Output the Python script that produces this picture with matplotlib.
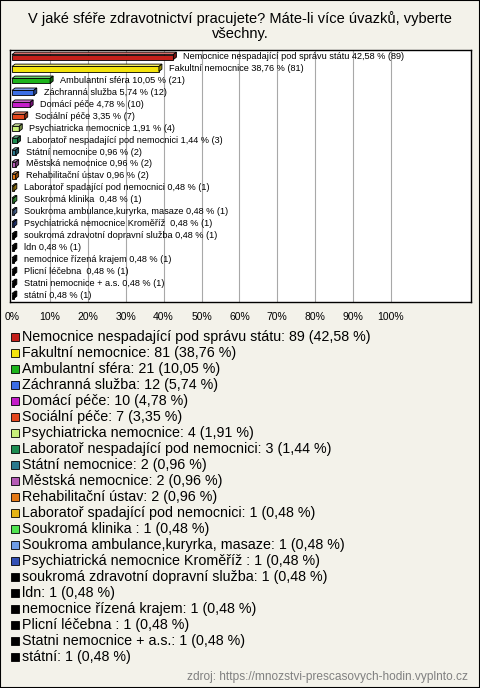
#!/usr/bin/env python3
"""Horizontal 3D-ish bar chart of workplace sectors, with a legend list below."""
import matplotlib
matplotlib.use('Agg')
import matplotlib.pyplot as plt
from matplotlib.patches import Polygon, Rectangle

plt.rcParams['font.family'] = ['Liberation Sans', 'DejaVu Sans']

title = ('V jaké sféře zdravotnictví pracujete? Máte-li více úvazků, vyberte\n'
         'všechny.')
names = [
    'Nemocnice nespadající pod správu státu',
    'Fakultní nemocnice',
    'Ambulantní sféra',
    'Záchranná služba',
    'Domácí péče',
    'Sociální péče',
    'Psychiatricka nemocnice',
    'Laboratoř nespadající pod nemocnici',
    'Státní nemocnice',
    'Městská nemocnice',
    'Rehabilitační ústav',
    'Laboratoř spadající pod nemocnici',
    'Soukromá klinika ',
    'Soukroma ambulance,kuryrka, masaze',
    'Psychiatrická nemocnice Kroměříž ',
    'soukromá zdravotní dopravní služba',
    'ldn',
    'nemocnice řízená krajem',
    'Plicní léčebna ',
    'Statni nemocnice + a.s.',
    'státní',
]
counts = [89, 81, 21, 12, 10, 7, 4, 3, 2, 2, 2, 1, 1, 1, 1, 1, 1, 1, 1, 1, 1]
percents = [42.58, 38.76, 10.05, 5.74, 4.78, 3.35, 1.91, 1.44, 0.96, 0.96,
            0.96, 0.48, 0.48, 0.48, 0.48, 0.48, 0.48, 0.48, 0.48, 0.48, 0.48]
colors = ['#c4201a', '#f4e40c', '#1cb41c', '#3c6ee4', '#c41cc8', '#e4461c',
          '#c8f07a', '#1c8c50', '#28788c', '#b45ab4', '#e47814', '#e4b414',
          '#50e450', '#6e9ce4', '#3250b4', '#000000', '#000000', '#000000',
          '#000000', '#000000', '#000000']
ticks = [0, 10, 20, 30, 40, 50, 60, 70, 80, 90, 100]
source = 'zdroj: https://mnozstvi-prescasovych-hodin.vyplnto.cz'

BG = '#f3f2ea'
W, H = 480, 688


def fmt(v):
    return '{:.2f}'.format(v).replace('.', ',')


def shade(c, k):
    r, g, b = matplotlib.colors.to_rgb(c)
    if k > 1:
        return tuple(x + (1 - x) * (k - 1) for x in (r, g, b))
    return tuple(x * k for x in (r, g, b))


fig = plt.figure(figsize=(W / 100, H / 100), dpi=100, facecolor=BG)
fig.add_artist(Rectangle((0, 0), 1, 1, transform=fig.transFigure,
                         fill=False, edgecolor='black', lw=1.5))
fig.text(0.5, 1 - 26 / H, title, ha='center', va='center', fontsize=10.5,
         linespacing=1.15)

# plot box
ax = fig.add_axes([10 / W, 1 - 302 / H, 461 / W, 252 / H])
ax.set_facecolor('white')
ax.set_xlim(-2 / 3.79, 459 / 3.79)
ax.set_ylim(len(names) - 0.5, -0.59)
for s in ax.spines.values():
    s.set_linewidth(1.0)
for t in ticks[1:]:
    ax.axvline(t, color='#a8a8a8', lw=0.8, zorder=0)

ys = list(range(len(names)))
bh = 0.42
dx, dy = 0.8, 0.2
ax.barh(ys, percents, height=bh, color=colors, edgecolor='black',
        linewidth=0.6, zorder=3)
for y, v, c in zip(ys, percents, colors):
    top = y - bh / 2
    bot = y + bh / 2
    ax.add_patch(Polygon([(0, top), (v, top), (v + dx, top - dy),
                          (dx, top - dy)], closed=True,
                         facecolor=shade(c, 1.35), edgecolor='black',
                         lw=0.6, zorder=3))
    ax.add_patch(Polygon([(v, top), (v + dx, top - dy), (v + dx, bot - dy),
                          (v, bot)], closed=True, facecolor=shade(c, 0.6),
                         edgecolor='black', lw=0.6, zorder=3))
for y, n, v, k in zip(ys, names, percents, counts):
    ax.annotate('{} {} % ({})'.format(n, fmt(v), k), (v + dx, y - 0.05),
                xytext=(5, 0), textcoords='offset points', va='center',
                ha='left', fontsize=6.6, zorder=4)

ax.set_yticks([])
ax.set_xticks(ticks)
ax.set_xticklabels(['{}%'.format(t) for t in ticks], fontsize=7.5)
ax.tick_params(axis='x', length=0, pad=7)

# legend list
for i, (n, v, k, c) in enumerate(zip(names, percents, counts, colors)):
    yc = 337 + 16 * i
    fig.add_artist(Rectangle((11 / W, 1 - (yc + 4) / H), 8 / W, 8 / H,
                             transform=fig.transFigure, facecolor=c,
                             edgecolor='black', lw=0.6))
    fig.text(22 / W, 1 - yc / H, '{}: {} ({} %)'.format(n, k, fmt(v)),
             ha='left', va='center', fontsize=10.3)

fig.text(468 / W, 1 - 677 / H, source, ha='right', va='center',
         fontsize=8.6, color='#808080')

fig.savefig('out.png', dpi=100, facecolor=BG)
